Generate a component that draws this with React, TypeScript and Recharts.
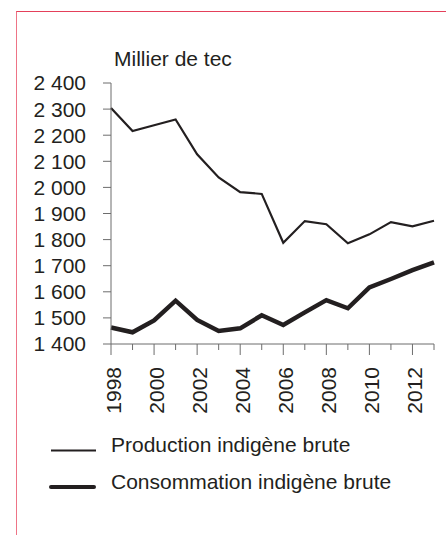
import React from 'react';
import { LineChart, Line, XAxis, YAxis, Legend } from 'recharts';

const years = [1998, 1999, 2000, 2001, 2002, 2003, 2004, 2005, 2006, 2007, 2008, 2009, 2010, 2011, 2012, 2013];
const production = [2304, 2216, 2238, 2260, 2127, 2038, 1982, 1975, 1788, 1871, 1859, 1786, 1820, 1867, 1851, 1872];
const consumption = [1463, 1445, 1490, 1566, 1492, 1450, 1460, 1510, 1473, 1521, 1568, 1537, 1617, 1649, 1683, 1713];
const yTicks = [1400, 1500, 1600, 1700, 1800, 1900, 2000, 2100, 2200, 2300, 2400];
const seriesNames = ['Production indigène brute', 'Consommation indigène brute'];
const unitLabel = 'Millier de tec';

const ink = '#231f20';
const axisGrey = '#6d6d6d';
const font = '"Liberation Sans", Arial, sans-serif';

const data = years.map((year, i) => ({
  year,
  production: production[i],
  consumption: consumption[i],
}));

// thousands with a space, french style
const fmt = (v: number) => {
  const s = String(v);
  return s.length > 3 ? s.slice(0, s.length - 3) + ' ' + s.slice(-3) : s;
};

const YearTick = (props: any) => {
  const { x, y, payload } = props;
  const major = payload.value % 2 === 0;
  return (
    <g>
      <line x1={x} x2={x} y1={y} y2={y + (major ? 11 : 6)} stroke={axisGrey} strokeWidth={1} />
      {major && (
        <text
          x={x + 2}
          y={367}
          transform={`rotate(-90 ${x + 2} 367)`}
          textAnchor="end"
          dominantBaseline="central"
          fontSize={21}
          fill={ink}
          fontFamily={font}
        >
          {payload.value}
        </text>
      )}
    </g>
  );
};

const LegendBox = () => (
  <svg width={400} height={80} style={{ display: 'block' }}>
    <line x1={51} x2={96} y1={30.5} y2={30.5} stroke={ink} strokeWidth={2} />
    <text x={111} y={32} fontSize={21} fill={ink} fontFamily={font}>{seriesNames[0]}</text>
    <line x1={51} x2={94} y1={67} y2={67} stroke={ink} strokeWidth={4} strokeLinecap="round" />
    <text x={111} y={68.5} fontSize={21} fill={ink} fontFamily={font}>{seriesNames[1]}</text>
  </svg>
);

export default function App() {
  return (
    <div style={{ position: 'absolute', left: 0, top: 0, width: 446, height: 535, background: '#fff', overflow: 'hidden', fontFamily: font }}>
      <div
        style={{
          position: 'absolute',
          left: 16,
          top: 11,
          width: 429,
          height: 523,
          borderTop: '1px solid #e4405a',
          borderLeft: '1px solid #ee7486',
        }}
      />
      <div style={{ position: 'absolute', left: 114, top: 47, fontSize: 21, color: ink, lineHeight: '24px' }}>
        {unitLabel}
      </div>
      <div style={{ position: 'absolute', left: 0, top: 0 }}>
        <LineChart width={446} height={535} data={data} margin={{ top: 83, right: 12, bottom: 131, left: 0 }}>
          <XAxis
            dataKey="year"
            type="number"
            domain={[1998, 2013]}
            ticks={years}
            interval={0}
            height={60}
            axisLine={{ stroke: axisGrey, strokeWidth: 1 }}
            tickLine={false}
            tickSize={0}
            tickMargin={0}
            tick={<YearTick />}
          />
          <YAxis
            type="number"
            domain={[1400, 2400]}
            ticks={yTicks}
            interval={0}
            width={111}
            axisLine={{ stroke: axisGrey, strokeWidth: 1 }}
            tickLine={{ stroke: axisGrey, strokeWidth: 1 }}
            tickSize={8}
            tickMargin={17}
            tickFormatter={fmt}
            tick={{ fontSize: 21, fill: ink, fontFamily: font }}
          />
          <Line
            dataKey="production"
            name={seriesNames[0]}
            stroke={ink}
            strokeWidth={2.2}
            dot={false}
            isAnimationActive={false}
          />
          <Line
            dataKey="consumption"
            name={seriesNames[1]}
            stroke={ink}
            strokeWidth={4.5}
            strokeLinejoin="miter"
            dot={false}
            isAnimationActive={false}
          />
          <Legend
            layout="horizontal"
            verticalAlign="middle"
            align="center"
            content={<LegendBox />}
            wrapperStyle={{ position: 'absolute', left: 0, top: 420, width: 400, height: 80 }}
          />
        </LineChart>
      </div>
    </div>
  );
}
